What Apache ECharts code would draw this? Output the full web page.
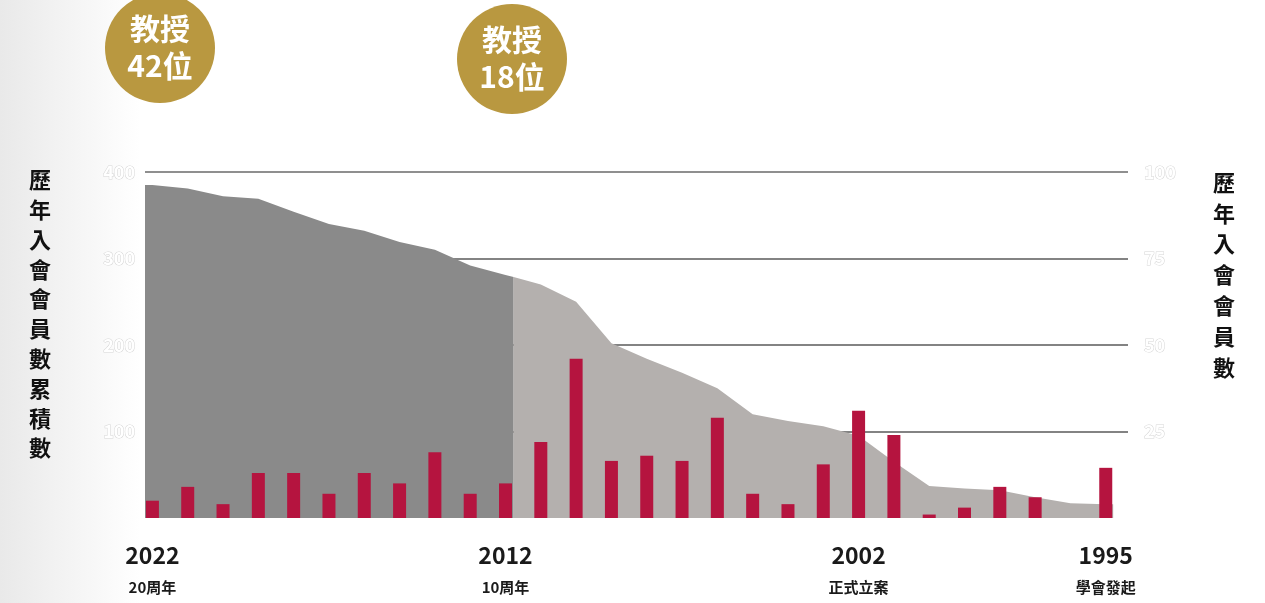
<!DOCTYPE html>
<html><head><meta charset="utf-8">
<script src="https://cdn.jsdelivr.net/npm/echarts@6/dist/echarts.min.js"></script>
<style>html,body{margin:0;padding:0;background:#fff}#c{width:1265px;height:603px}</style>
</head><body><div id="c"></div>
<script>
const years = [2022,2021,2020,2019,2018,2017,2016,2015,2014,2013,2012,2011,2010,2009,2008,2007,2006,2005,2004,2003,2002,2001,2000,1999,1998,1997,1996,1995];
const newMembers = [5,9,4,13,13,7,13,10,19,7,10,22,46,16.5,18,16.5,29,7,4,15.5,31,24,1,3,9,6,0,14.5];
const cumulative = [385,381,372,369,354,340,332,319,310,292,281,270,250,202,184,168,150,120,112,106,95,65,37,34,32,24,17,16];
const leftTicks = [0,100,200,300,400];
const rightTicks = [0,25,50,75,100];
const milestoneYears = [2022,2012,2002,1995];
const milestoneNames = ['20周年','10周年','正式立案','學會發起'];
const professors = [{text:'教授\n42位'},{text:'教授\n18位'}];
const leftTitle = '歷年入會會員數累積數';
const rightTitle = '歷年入會會員數';
const splitYear = 2012;

const FONT = '"Noto Sans CJK TC","Noto Sans",sans-serif';
const half = 0.21; // half bar slot beyond the first/last year
const xMax = years[0] + half, xEdgeMin = years[years.length-1] - half;
const boundary = splitYear - 0.23;
const iS = years.indexOf(splitYear);
const bVal = cumulative[iS] + (cumulative[iS+1]-cumulative[iS]) * (splitYear-boundary);
const dark = [[xMax, cumulative[0]]];
const light = [[boundary, bVal]];
years.forEach((y,i)=>{ if (y>=splitYear) dark.push([y,cumulative[i]]); else light.push([y,cumulative[i]]); });
dark.push([boundary,bVal]);
light.push([xEdgeMin, cumulative[cumulative.length-1]]);

const chart = echarts.init(document.getElementById('c'));
const tickLabel = {color:'#fff', textBorderColor:'#d6d6d6', textBorderWidth:1, fontSize:18, fontWeight:'bold', fontFamily:FONT};
chart.setOption({
  animation:false,
  backgroundColor:'#fff',
  grid:{left:145, right:137, top:172, bottom:85},
  xAxis:{type:'value', inverse:true, min:1994.37, max:xMax,
    axisLine:{show:false}, axisTick:{show:false}, splitLine:{show:false},
    axisLabel:{customValues:milestoneYears, margin:20, fontFamily:FONT,
      formatter:(v)=>{const i=milestoneYears.indexOf(v); return '{y|'+v+'}\n{s|'+milestoneNames[i]+'}';},
      rich:{y:{fontSize:23,fontWeight:'bold',color:'#1a1a1a',lineHeight:34,fontFamily:FONT},
            s:{fontSize:15,fontWeight:'bold',color:'#1a1a1a',lineHeight:30,fontFamily:FONT}}}},
  yAxis:[
    {type:'value', min:leftTicks[0], max:leftTicks[leftTicks.length-1], interval:100,
      axisLine:{show:false}, axisTick:{show:false},
      axisLabel:Object.assign({margin:10, formatter:(v)=>v===0?'':v}, tickLabel),
      splitLine:{show:true, lineStyle:{color:['rgba(0,0,0,0)','#5a5a5a','#5a5a5a','#5a5a5a','#6a6a6a'], width:1.5}}},
    {type:'value', min:rightTicks[0], max:rightTicks[rightTicks.length-1], interval:25, position:'right',
      axisLine:{show:false}, axisTick:{show:false},
      axisLabel:Object.assign({margin:16, formatter:(v)=>v===0?'':v}, tickLabel),
      splitLine:{show:false}}
  ],
  graphic:[
    {type:'rect', z:-10, shape:{x:0,y:0,width:140,height:603},
      style:{fill:new echarts.graphic.LinearGradient(0,0,1,0,[{offset:0,color:'#e9e9e9'},{offset:1,color:'#ffffff'}])}},
    {type:'circle', shape:{cx:160, cy:48, r:55}, style:{fill:'#b99840'}},
    {type:'text', x:160, y:47, style:{text:professors[0].text, fill:'#fff', font:'bold 30px '+FONT, align:'center', verticalAlign:'middle', lineHeight:37}},
    {type:'circle', shape:{cx:512, cy:59, r:55}, style:{fill:'#b99840'}},
    {type:'text', x:512, y:58, style:{text:professors[1].text, fill:'#fff', font:'bold 30px '+FONT, align:'center', verticalAlign:'middle', lineHeight:37}},
    {type:'text', x:40, y:165, style:{text:leftTitle.split('').join('\n'), fill:'#111', font:'bold 22px '+FONT, align:'center', lineHeight:29.8}},
    {type:'text', x:1224, y:167, style:{text:rightTitle.split('').join('\n'), fill:'#111', font:'bold 22px '+FONT, align:'center', lineHeight:30.8}}
  ],
  series:[
    {type:'line', data:dark, symbol:'none', smooth:false, lineStyle:{width:0}, areaStyle:{color:'#8a8a8a', opacity:1}, z:1},
    {type:'line', data:light, symbol:'none', smooth:false, lineStyle:{width:0}, areaStyle:{color:'#b4b0ae', opacity:1}, z:1},
    {type:'bar', yAxisIndex:1, barWidth:13, data:years.map((y,i)=>[y,newMembers[i]]), itemStyle:{color:'#b5143f'}, z:3}
  ]
});
</script></body></html>
